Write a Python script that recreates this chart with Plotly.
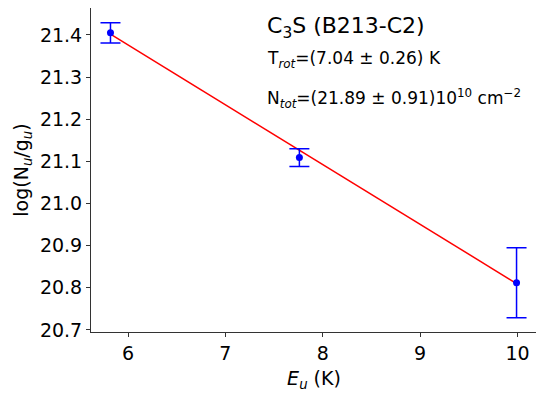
import plotly.graph_objects as go

# rotational diagram points
eu = [5.82, 7.76, 9.99]
log_nu_gu = [21.405, 21.109, 20.812]
err = [0.024, 0.021, 0.083]

# fitted line
fit_x = [5.82, 9.99]
fit_y = [21.402, 20.810]

title_txt = 'C<sub>3</sub>S (B213-C2)'
trot_txt = 'T<sub><i>rot</i></sub>=(7.04 ± 0.26) K'
ntot_txt = 'N<sub><i>tot</i></sub>=(21.89 ± 0.91)10<sup>10</sup> cm<sup>−2</sup>'

font = 'DejaVu Sans'

fig = go.Figure()
fig.add_trace(go.Scatter(x=fit_x, y=fit_y, mode='lines',
                         line=dict(color='red', width=1.5), showlegend=False))
fig.add_trace(go.Scatter(
    x=eu, y=log_nu_gu, mode='markers',
    marker=dict(color='blue', size=7),
    error_y=dict(type='data', array=err, color='blue', thickness=1.5, width=10),
    showlegend=False))

ax = dict(showline=True, mirror=True, linecolor='#333', linewidth=1,
          ticks='outside', ticklen=4, tickcolor='#333', showgrid=False,
          zeroline=False, automargin=False, tickfont=dict(size=19, color='black'))

# page body has an 8px margin, so the figure is a bit smaller than the window
fig.update_layout(
    width=536, height=389,
    margin=dict(l=83, r=7, t=0, b=65),
    plot_bgcolor='white', paper_bgcolor='white',
    font=dict(family=font, color='black'),
    xaxis=dict(ax, range=[5.62, 10.2], tickvals=[6, 7, 8, 9, 10],
               title=dict(text='<i>E<sub>u</sub></i> (K)', font=dict(size=19), standoff=8)),
    yaxis=dict(ax, range=[20.695, 21.464], tickformat='.1f', dtick=0.1,
               title=dict(text='log(N<sub><i>u</i></sub>/g<sub><i>u</i></sub>)',
                          font=dict(size=19), standoff=6)),
    annotations=[
        dict(x=0.39, y=0.94, xref='paper', yref='paper', text=title_txt,
             showarrow=False, xanchor='left', yanchor='middle', font=dict(size=22)),
        dict(x=0.39, y=0.84, xref='paper', yref='paper', text=trot_txt,
             showarrow=False, xanchor='left', yanchor='middle', font=dict(size=17)),
        dict(x=0.39, y=0.72, xref='paper', yref='paper', text=ntot_txt,
             showarrow=False, xanchor='left', yanchor='middle', font=dict(size=17)),
    ],
)

fig.write_html('out.html')
